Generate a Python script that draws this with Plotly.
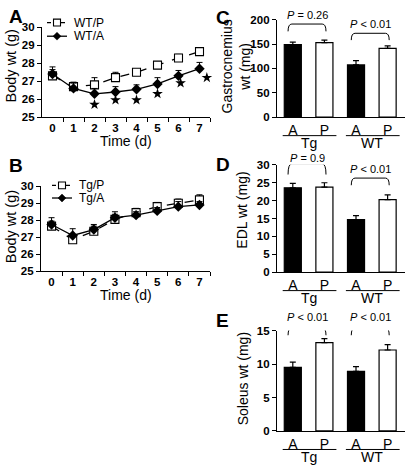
import plotly.graph_objects as go

# ---------------- data ----------------
days = [0, 1, 2, 3, 4, 5, 6, 7]
day_labels = ["0", "1", "2", "3", "4", "5", "6", "7"]

wt_p = [27.3, 26.7, 26.8, 27.2, 27.5, 27.9, 28.3, 28.65]
wt_p_err = [0.35, 0.25, 0.4, 0.3, 0.15, 0.2, 0.2, 0.2]
wt_a = [27.4, 26.6, 26.3, 26.4, 26.55, 26.85, 27.3, 27.7]
wt_a_err = [0.4, 0.3, 0.3, 0.3, 0.25, 0.35, 0.3, 0.35]
star_x = [2, 3, 4, 5, 6.1, 7.35]
star_y = [25.7, 25.95, 25.95, 26.3, 26.9, 27.2]

tg_p = [27.65, 26.85, 27.35, 28.05, 28.45, 28.8, 29.0, 29.2]
tg_p_err = [0.3, 0.3, 0.3, 0.3, 0.25, 0.25, 0.25, 0.3]
tg_a = [27.75, 27.1, 27.45, 28.15, 28.3, 28.55, 28.8, 28.9]
tg_a_err = [0.4, 0.4, 0.3, 0.35, 0.2, 0.2, 0.3, 0.2]

series_names_a = ["WT/P", "WT/A"]
series_names_b = ["Tg/P", "Tg/A"]

bar_labels = ["A", "P", "A", "P"]
groups = ["Tg", "WT"]
bar_pos = [0, 1, 2, 3]

gastro = [149, 153, 107, 141]
gastro_err = [5, 5, 9, 5]
edl = [23.6, 23.8, 14.7, 20.3]
edl_err = [1.2, 1.2, 1.1, 1.3]
soleus = [9.5, 13.2, 8.9, 12.1]
soleus_err = [0.8, 0.6, 0.7, 0.8]

p_gastro = ["<i>P</i> = 0.26", "<i>P</i> < 0.01"]
p_edl = ["<i>P</i> = 0.9", "<i>P</i> < 0.01"]
p_soleus = ["<i>P</i> < 0.01", "<i>P</i> < 0.01"]

W, H = 406, 474
FONT = "Liberation Sans, Arial, sans-serif"


def px(x):
    return x / W


def py(y):
    return 1 - y / H


fig = go.Figure()

# ---------------- line panels ----------------
def line_traces(xa, ya, yp, yp_err, ya_vals, ya_err, names):
    fig.add_trace(go.Scatter(
        x=days, y=yp, name=names[0], mode="lines+markers",
        line=dict(color="black", width=1.3, dash="dash"),
        marker=dict(symbol="square", size=8, color="white",
                    line=dict(color="black", width=1.1)),
        error_y=dict(type="data", symmetric=False, array=yp_err,
                     arrayminus=[0] * len(yp_err), color="black",
                     thickness=1, width=3),
        xaxis=xa, yaxis=ya, showlegend=False))
    fig.add_trace(go.Scatter(
        x=days, y=ya_vals, name=names[1], mode="lines+markers",
        line=dict(color="black", width=1.3),
        marker=dict(symbol="diamond", size=8, color="black"),
        error_y=dict(type="data", symmetric=False, array=ya_err,
                     arrayminus=[0] * len(ya_err), color="black",
                     thickness=1, width=3),
        xaxis=xa, yaxis=ya, showlegend=False))


line_traces("x", "y", wt_p, wt_p_err, wt_a, wt_a_err, series_names_a)
line_traces("x2", "y2", tg_p, tg_p_err, tg_a, tg_a_err, series_names_b)

fig.add_trace(go.Scatter(
    x=star_x, y=star_y, mode="markers",
    marker=dict(symbol="star", size=8, color="black"),
    xaxis="x", yaxis="y", showlegend=False, cliponaxis=False))

# ---------------- bar panels ----------------
bar_sets = [("x3", "y3", gastro, gastro_err),
            ("x4", "y4", edl, edl_err),
            ("x5", "y5", soleus, soleus_err)]
for xa, ya, vals, errs in bar_sets:
    fig.add_trace(go.Bar(
        x=bar_pos, y=vals, width=0.54,
        marker=dict(color=["black", "white", "black", "white"],
                    line=dict(color="black", width=1.2)),
        error_y=dict(type="data", symmetric=False, array=errs,
                     arrayminus=[0] * len(errs), color="black",
                     thickness=1.2, width=3),
        xaxis=xa, yaxis=ya, showlegend=False))

# ---------------- axes ----------------
tickfont = dict(family=FONT, size=11.5, color="black", weight="bold")
base_ax = dict(showline=True, linecolor="black", linewidth=1.3,
               showgrid=False, zeroline=False, ticks="outside",
               ticklen=4, tickwidth=1.2, tickcolor="black",
               tickfont=tickfont)

line_x = dict(base_ax, range=[-0.5, 7.5], tickvals=days, ticktext=day_labels,
              ticks="", minor=dict(tickvals=[d + 0.5 for d in days],
                                   ticks="outside", ticklen=4,
                                   tickwidth=1.2, tickcolor="black"))
line_y = dict(base_ax, range=[25, 30], tickvals=[25, 26, 27, 28, 29, 30])

fig.update_layout(
    xaxis=dict(line_x, domain=[px(42), px(210)], anchor="y"),
    yaxis=dict(line_y, domain=[py(114), py(22)], anchor="x"),
    xaxis2=dict(line_x, domain=[px(41), px(210)], anchor="y2"),
    yaxis2=dict(line_y, domain=[py(272), py(185)], anchor="x2"),
)

bar_x = dict(base_ax, range=[-0.5, 3.55], tickvals=bar_pos, ticktext=bar_labels,
             ticks="", tickfont=dict(family=FONT, size=14, color="black"))
bar_domains = [
    ("xaxis3", "yaxis3", "y3", "x3", [py(114), py(14)], [0, 200], [0, 50, 100, 150, 200]),
    ("xaxis4", "yaxis4", "y4", "x4", [py(273), py(163)], [0, 30], [0, 5, 10, 15, 20, 25, 30]),
    ("xaxis5", "yaxis5", "y5", "x5", [py(436), py(333)], [0, 15], [0, 5, 10, 15]),
]
for xk, yk, yan, xan, dom, rng, tv in bar_domains:
    fig.update_layout({
        xk: dict(bar_x, domain=[px(277), px(405)], anchor=yan),
        yk: dict(base_ax, domain=dom, range=rng, tickvals=tv, anchor=xan),
    })

# ---------------- annotations ----------------
ann = []
shapes = []


def text(x, y, s, size, bold=False, angle=0, xanchor="center", yanchor="middle",
         xref="paper", yref="paper"):
    ann.append(dict(x=x, y=y, xref=xref, yref=yref, text=s, showarrow=False,
                    textangle=angle, xanchor=xanchor, yanchor=yanchor,
                    font=dict(family=FONT, size=size, color="black",
                              weight="bold" if bold else "normal")))


# panel letters
text(px(7), py(11), "A", 19, bold=True, xanchor="left")
text(px(7), py(164), "B", 19, bold=True, xanchor="left")
text(px(214), py(12), "C", 19, bold=True, xanchor="left")
text(px(214), py(163), "D", 19, bold=True, xanchor="left")
text(px(214), py(323), "E", 19, bold=True, xanchor="left")

# axis titles
text(px(11), py(62), "Body wt (g)", 14.5, angle=-90)
text(px(11), py(227), "Body wt (g)", 14.5, angle=-90)
text(px(126), py(139), "Time (d)", 14)
text(px(126), py(297), "Time (d)", 14)
text(px(236), py(62), "Gastrocnemius<br>wt (mg)", 14, angle=-90)
text(px(242), py(210), "EDL wt (mg)", 14, angle=-90)
text(px(243), py(383), "Soleus wt (mg)", 14, angle=-90)


# manual legends (glyph line + marker + label), positions in pixels
def legend_entry(x0, y, label, dashed):
    shapes.append(dict(type="line", xref="paper", yref="paper",
                       x0=px(x0), x1=px(x0 + 20), y0=py(y), y1=py(y),
                       line=dict(color="black", width=1.3,
                                 dash="4px,3px" if dashed else "solid")))
    cx = x0 + 10
    if dashed:
        shapes.append(dict(type="rect", xref="paper", yref="paper",
                           x0=px(cx - 3.5), x1=px(cx + 3.5),
                           y0=py(y + 3.5), y1=py(y - 3.5),
                           fillcolor="white", line=dict(color="black", width=1.1)))
    else:
        shapes.append(dict(type="path", xref="paper", yref="paper",
                           path=(f"M {px(cx - 4)},{py(y)} L {px(cx)},{py(y - 4)} "
                                 f"L {px(cx + 4)},{py(y)} L {px(cx)},{py(y + 4)} Z"),
                           fillcolor="black", line=dict(color="black", width=0.5)))
    text(px(x0 + 25), py(y), label, 12, xanchor="left")


legend_entry(47, 17, series_names_a[0], True)
legend_entry(47, 31, series_names_a[1], False)
legend_entry(52, 184, series_names_b[0], True)
legend_entry(52, 197, series_names_b[1], False)

# group labels and underlines under bar panels
axis_bottoms = [("x3", 114), ("x4", 273), ("x5", 436)]
for xa, ybot in axis_bottoms:
    for gi, g in enumerate(groups):
        c = (bar_pos[2 * gi] + bar_pos[2 * gi + 1]) / 2
        shapes.append(dict(type="line", xref=xa, yref="paper",
                           x0=c - 0.82, x1=c + 0.88, y0=py(ybot + 19), y1=py(ybot + 19),
                           line=dict(color="black", width=1)))
        text(c, py(ybot + 27), g, 14, xref=xa)

# P-value brackets (bracket levels in data units, text positions in pixels)
bracket_specs = [
    ("x3", "y3", p_gastro, [(176, 191, 9), (158, 172, 18)]),
    ("x4", "y4", p_edl, [(27.3, 30.3, 156), (24.3, 26.3, 167)]),
    ("x5", "y5", p_soleus, [(14.3, 15.4, 319), (14.3, 15.4, 319)]),
]
for xa, ya, labels, levels in bracket_specs:
    for gi in range(2):
        x0 = bar_pos[2 * gi] - 0.15
        x1 = bar_pos[2 * gi + 1] + 0.05
        yb, yt, ytxt = levels[gi]
        r = 0.12
        path = (f"M {x0},{yb} Q {x0},{yt} {x0 + r},{yt} "
                f"L {x1 - r},{yt} Q {x1},{yt} {x1},{yb}")
        shapes.append(dict(type="path", xref=xa, yref=ya, path=path,
                           line=dict(color="black", width=1)))
        text((x0 + x1) / 2, py(ytxt), labels[gi], 11, xref=xa)

fig.update_layout(
    annotations=ann, shapes=shapes,
    width=W, height=H, margin=dict(l=0, r=0, t=0, b=0),
    paper_bgcolor="white", plot_bgcolor="white",
    font=dict(family=FONT, color="black"),
    showlegend=False,
)

fig.write_html("out.html", config={"displayModeBar": False},
               post_script="document.body.style.margin='0px';")
